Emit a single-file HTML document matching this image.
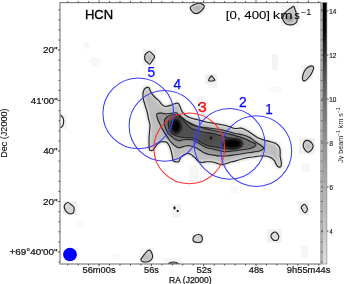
<!DOCTYPE html><html><head><meta charset="utf-8"><style>html,body{margin:0;padding:0;background:#fff;overflow:hidden}svg{display:block}text{opacity:0.999}text{font-family:"Liberation Sans",sans-serif}</style></head><body>
<svg width="344" height="284" viewBox="0 0 344 284">
<defs>
<filter id="bl" x="-20%" y="-20%" width="140%" height="140%"><feGaussianBlur stdDeviation="1.3"/></filter>
<filter id="bl2" x="-50%" y="-50%" width="200%" height="200%"><feGaussianBlur stdDeviation="1.0"/></filter><filter id="bl3" x="-50%" y="-50%" width="200%" height="200%"><feGaussianBlur stdDeviation="0.8"/></filter>
<linearGradient id="cb" gradientUnits="userSpaceOnUse" x1="0" y1="2.6" x2="0" y2="264">
<stop offset="0.0000" stop-color="rgb(0,0,0)"/>
<stop offset="0.1048" stop-color="rgb(6,6,6)"/>
<stop offset="0.1622" stop-color="rgb(30,30,30)"/>
<stop offset="0.2196" stop-color="rgb(58,58,58)"/>
<stop offset="0.2884" stop-color="rgb(86,86,86)"/>
<stop offset="0.3688" stop-color="rgb(110,110,110)"/>
<stop offset="0.5371" stop-color="rgb(146,146,146)"/>
<stop offset="0.7054" stop-color="rgb(174,174,174)"/>
<stop offset="0.8738" stop-color="rgb(199,199,199)"/>
<stop offset="1.0000" stop-color="rgb(224,224,224)"/>
</linearGradient>
<clipPath id="plot"><rect x="60" y="2.6" width="261" height="261.4"/></clipPath>
</defs>
<rect width="344" height="284" fill="#fff"/>
<g clip-path="url(#plot)">
<rect x="143" y="49" width="13" height="17" fill="rgb(242,242,242)"/>
<rect x="189" y="3" width="16" height="12" fill="rgb(245,245,245)"/>
<rect x="281" y="5" width="18" height="21" fill="rgb(245,245,245)"/>
<rect x="301" y="65" width="12" height="15" fill="rgb(247,247,247)"/>
<rect x="272" y="54" width="6" height="16" fill="rgb(245,245,245)"/>
<rect x="63" y="201" width="14" height="14" fill="rgb(240,240,240)"/>
<rect x="299" y="138" width="16" height="16" fill="rgb(240,240,240)"/>
<rect x="301" y="163" width="9" height="9" fill="rgb(247,247,247)"/>
<rect x="298" y="201" width="11" height="14" fill="rgb(242,242,242)"/>
<rect x="267" y="229" width="15" height="14" fill="rgb(242,242,242)"/>
<rect x="301" y="246" width="7" height="12" fill="rgb(246,246,246)"/>
<rect x="140" y="248" width="14" height="15" fill="rgb(245,245,245)"/>
<rect x="192" y="233" width="12" height="11" fill="rgb(245,245,245)"/>
<rect x="172" y="204" width="9" height="13" fill="rgb(243,243,243)"/>
<rect x="84" y="42" width="6" height="7" fill="rgb(248,248,248)"/>
<rect x="92" y="57" width="6" height="9" fill="rgb(246,246,246)"/>
<rect x="89" y="59" width="12" height="4" fill="rgb(247,247,247)"/>
<rect x="197" y="96" width="8" height="22" fill="rgb(245,245,245)"/>
<rect x="60" y="114" width="7" height="15" fill="rgb(244,244,244)"/>
<rect x="189" y="165" width="10" height="16" fill="rgb(246,246,246)"/>
<rect x="164" y="258" width="18" height="6" fill="rgb(246,246,246)"/>
<rect x="205" y="74" width="12" height="10" fill="rgb(240,240,240)"/>
<rect x="208" y="83" width="9" height="5" fill="rgb(244,244,244)"/>
<rect x="76" y="219" width="8" height="8" fill="rgb(249,249,249)"/>
<rect x="113" y="253" width="7" height="7" fill="rgb(249,249,249)"/>
<rect x="268" y="87" width="14" height="6" fill="rgb(249,249,249)"/>
<rect x="230" y="186" width="8" height="8" fill="rgb(249,249,249)"/>
<g filter="url(#bl)">
<path d="M145.0,88.5 C145.8,87.9 147.8,87.3 148.6,87.5 C149.4,87.7 149.2,88.4 149.7,89.4 C150.2,90.4 150.8,92.1 151.6,93.4 C152.4,94.7 153.4,95.8 154.6,97.0 C155.8,98.2 157.5,99.4 158.8,100.7 C160.1,102.0 161.4,104.1 162.6,105.1 C163.8,106.1 164.8,106.5 166.2,106.5 C167.6,106.5 169.7,105.6 171.1,105.1 C172.5,104.6 173.4,104.0 174.6,103.7 C175.8,103.4 177.1,102.8 178.0,103.2 C178.9,103.6 179.3,105.2 179.9,106.3 C180.5,107.4 180.7,108.7 181.3,109.9 C181.9,111.1 182.6,112.4 183.5,113.4 C184.4,114.5 185.6,115.4 187.0,116.2 C188.4,117.0 190.2,117.7 191.9,118.3 C193.7,118.9 195.6,119.2 197.5,119.7 C199.4,120.2 201.3,120.6 203.2,121.1 C205.1,121.6 206.8,122.1 208.8,122.5 C210.8,122.9 212.8,123.2 215.0,123.6 C217.2,124.0 219.7,124.3 222.0,124.8 C224.3,125.3 226.8,125.9 229.0,126.5 C231.2,127.1 232.9,128.2 235.0,128.5 C237.1,128.8 239.5,127.8 241.3,128.1 C243.1,128.3 244.4,129.5 245.6,130.0 C246.8,130.5 247.0,130.6 248.2,131.3 C249.4,132.1 251.3,133.4 252.9,134.5 C254.5,135.6 255.8,136.8 257.7,137.7 C259.6,138.6 261.9,139.4 264.0,140.1 C266.1,140.8 268.5,141.2 270.4,141.7 C272.3,142.2 273.9,142.7 275.2,143.3 C276.5,144.0 277.5,144.7 278.3,145.6 C279.1,146.5 279.6,147.6 279.9,148.8 C280.2,150.0 280.1,151.5 280.2,152.8 C280.2,154.1 280.0,155.2 280.2,156.7 C280.4,158.1 281.0,160.0 281.2,161.5 C281.4,163.0 281.4,164.6 281.2,165.5 C281.0,166.4 280.5,167.0 279.9,167.1 C279.3,167.2 278.1,166.8 277.5,166.3 C276.9,165.8 276.5,164.8 276.0,163.9 C275.5,163.0 275.1,161.6 274.4,160.7 C273.7,159.8 272.9,159.0 272.0,158.3 C271.1,157.6 270.0,157.1 268.8,156.7 C267.6,156.3 266.2,156.1 264.8,156.0 C263.4,155.9 261.8,155.9 260.1,156.0 C258.4,156.1 256.5,156.4 254.5,156.7 C252.5,156.9 249.8,157.2 248.0,157.5 C246.2,157.8 245.7,157.9 243.5,158.5 C241.3,159.1 237.0,160.5 235.0,161.1 C233.0,161.7 232.9,161.5 231.6,161.8 C230.3,162.2 228.9,162.7 227.4,163.2 C225.9,163.7 223.9,164.5 222.5,164.6 C221.1,164.7 220.3,164.3 219.0,164.0 C217.7,163.7 216.1,162.9 214.7,162.5 C213.3,162.1 211.9,161.9 210.5,161.8 C209.1,161.7 207.7,161.7 206.3,161.8 C204.9,161.9 203.3,162.6 202.0,162.5 C200.7,162.4 199.5,162.1 198.5,161.5 C197.5,160.9 196.9,159.7 196.0,158.8 C195.1,157.9 194.0,157.0 193.1,156.2 C192.2,155.4 191.2,154.6 190.3,154.1 C189.4,153.6 188.6,153.3 187.5,153.4 C186.4,153.5 185.1,154.2 184.0,154.8 C182.9,155.4 181.8,156.1 181.1,156.9 C180.4,157.7 180.2,158.9 179.7,159.7 C179.2,160.5 179.4,161.6 178.3,161.8 C177.2,162.0 174.3,161.7 173.4,161.1 C172.5,160.5 173.0,159.9 172.7,158.3 C172.3,156.7 171.9,153.4 171.3,151.3 C170.7,149.2 169.9,147.1 169.2,145.6 C168.5,144.1 167.7,143.1 167.0,142.5 C166.3,141.9 165.8,141.9 164.8,141.8 C163.8,141.7 162.4,141.5 161.2,141.8 C160.0,142.2 158.8,143.0 157.7,143.9 C156.6,144.8 155.7,146.4 154.9,147.5 C154.1,148.6 153.6,149.8 152.8,150.3 C152.0,150.8 150.6,150.5 150.0,150.3 C149.4,150.1 149.5,150.4 149.3,148.9 C149.1,147.4 149.0,143.6 149.0,141.1 C149.0,138.6 149.1,136.7 149.3,134.1 C149.5,131.5 150.0,127.6 150.0,125.6 C150.0,123.6 149.5,123.1 149.3,122.0 C149.1,120.9 148.9,120.8 148.6,119.2 C148.2,117.6 147.8,114.6 147.2,112.2 C146.6,109.8 145.6,107.2 145.0,105.1 C144.4,103.0 143.8,101.1 143.4,99.5 C143.1,97.9 142.9,96.7 142.9,95.3 C142.9,93.9 143.2,92.1 143.6,91.0 C143.9,89.9 144.2,89.1 145.0,88.5 Z" fill="rgb(190,190,190)" stroke="rgb(218,218,218)" stroke-width="3.5"/>
<path d="M157.0,113.6 C157.9,112.8 161.1,113.1 162.6,113.2 C164.1,113.3 164.7,114.0 166.2,114.0 C167.7,114.0 170.2,113.5 171.8,113.3 C173.4,113.1 174.9,112.6 176.0,112.8 C177.1,113.0 177.2,113.5 178.5,114.5 C179.8,115.5 182.0,117.5 183.8,119.0 C185.6,120.5 187.0,122.1 189.1,123.3 C191.2,124.5 193.8,125.7 196.5,126.4 C199.2,127.1 202.4,127.2 205.0,127.5 C207.6,127.8 209.5,128.2 212.0,128.5 C214.5,128.8 217.3,129.0 220.0,129.5 C222.7,130.0 225.5,130.8 228.0,131.5 C230.5,132.2 232.5,132.9 235.0,133.5 C237.5,134.1 240.5,134.3 243.0,135.0 C245.5,135.7 247.8,136.4 249.8,137.5 C251.8,138.6 253.4,140.3 255.0,141.5 C256.6,142.7 258.1,143.5 259.5,144.5 C260.9,145.5 263.1,146.6 263.5,147.5 C263.9,148.4 263.1,149.3 262.0,150.0 C260.9,150.7 259.0,151.1 257.0,151.5 C255.0,151.9 252.3,152.2 250.0,152.5 C247.7,152.8 245.5,153.1 243.0,153.5 C240.5,153.9 237.8,154.4 235.0,154.8 C232.2,155.2 228.5,155.8 226.0,156.0 C223.5,156.2 221.9,156.1 220.0,156.0 C218.1,155.9 216.5,155.6 214.7,155.3 C212.9,155.1 210.9,155.0 209.0,154.5 C207.1,154.0 205.2,153.3 203.5,152.5 C201.8,151.7 200.4,150.4 199.0,149.5 C197.6,148.6 196.3,147.8 195.0,147.2 C193.7,146.6 192.3,146.2 191.0,146.0 C189.7,145.8 188.3,145.6 187.0,145.7 C185.7,145.8 184.3,146.2 183.0,146.6 C181.7,146.9 180.3,147.9 179.0,147.8 C177.7,147.7 176.6,146.9 175.4,146.1 C174.2,145.3 173.1,144.3 172.0,143.2 C170.9,142.1 170.0,140.9 169.0,139.5 C168.0,138.1 167.0,136.6 165.9,134.9 C164.8,133.2 163.8,131.5 162.7,129.6 C161.6,127.7 160.4,125.2 159.5,123.3 C158.6,121.4 157.8,119.6 157.4,118.0 C157.0,116.4 156.1,114.4 157.0,113.6 Z" fill="rgb(150,150,150)"/>
<path d="M164.5,121.0 C164.8,119.2 165.8,118.0 167.0,117.0 C168.2,116.0 169.7,115.2 171.5,115.0 C173.3,114.8 176.1,114.8 178.0,115.5 C179.9,116.2 181.2,117.8 183.0,119.0 C184.8,120.2 186.7,121.3 189.0,122.5 C191.3,123.7 194.3,125.3 197.0,126.3 C199.7,127.3 202.5,127.9 205.0,128.6 C207.5,129.2 209.5,129.7 212.0,130.2 C214.5,130.7 217.3,131.2 220.0,131.8 C222.7,132.4 225.5,133.2 228.0,133.8 C230.5,134.4 232.4,134.8 235.0,135.6 C237.6,136.4 240.8,137.4 243.5,138.4 C246.2,139.4 248.9,140.8 251.0,141.8 C253.1,142.8 256.0,143.5 256.0,144.6 C256.0,145.7 253.1,147.5 251.0,148.3 C248.9,149.1 246.2,149.1 243.5,149.5 C240.8,149.9 237.4,150.5 235.0,150.8 C232.6,151.1 230.8,151.4 228.8,151.5 C226.8,151.6 224.6,151.7 223.0,151.5 C221.4,151.3 220.7,150.9 219.0,150.5 C217.3,150.1 214.8,149.5 212.7,149.0 C210.6,148.5 208.2,148.2 206.3,147.5 C204.4,146.8 202.7,145.5 201.0,144.5 C199.3,143.5 197.5,142.3 196.0,141.5 C194.5,140.7 193.5,140.2 192.0,139.8 C190.5,139.5 188.5,139.4 187.0,139.4 C185.5,139.4 184.3,139.6 183.0,139.8 C181.7,140.0 180.3,140.8 179.0,140.7 C177.7,140.6 176.6,140.0 175.4,139.4 C174.2,138.8 173.2,138.0 172.0,136.9 C170.8,135.8 169.1,134.5 168.0,133.0 C166.9,131.5 166.1,130.0 165.5,128.0 C164.9,126.0 164.2,122.8 164.5,121.0 Z" fill="rgb(110,110,110)"/>
<path d="M168.5,121.0 C169.0,119.6 170.2,118.3 171.5,117.6 C172.8,116.9 174.5,116.7 176.0,116.8 C177.5,116.9 179.1,117.3 180.5,118.2 C181.9,119.1 183.2,120.8 184.5,122.0 C185.8,123.2 186.8,124.4 188.0,125.5 C189.2,126.6 190.3,127.9 192.0,128.8 C193.7,129.7 195.8,130.4 198.0,131.0 C200.2,131.6 202.7,132.1 205.0,132.5 C207.3,132.9 209.5,133.0 212.0,133.5 C214.5,134.0 217.3,134.8 220.0,135.5 C222.7,136.2 225.7,137.3 228.0,137.8 C230.3,138.3 232.1,138.3 234.0,138.6 C235.9,138.9 238.2,139.1 239.5,139.6 C240.8,140.1 241.2,140.8 241.6,141.6 C242.0,142.4 242.1,143.3 242.0,144.2 C241.9,145.1 241.7,146.1 240.8,146.8 C239.9,147.5 238.0,148.1 236.5,148.5 C235.0,148.9 233.4,148.9 232.0,149.0 C230.6,149.1 229.8,149.2 228.0,149.0 C226.2,148.8 223.3,148.4 221.0,148.0 C218.7,147.6 216.3,147.2 214.0,146.8 C211.7,146.4 209.2,146.1 207.0,145.3 C204.8,144.6 202.8,143.4 201.0,142.3 C199.2,141.2 197.5,139.7 196.0,139.0 C194.5,138.3 193.5,138.2 192.0,138.0 C190.5,137.8 188.7,137.6 187.0,137.5 C185.3,137.4 183.7,137.6 182.0,137.3 C180.3,137.1 178.6,136.6 177.0,136.0 C175.4,135.4 173.7,134.9 172.5,134.0 C171.3,133.1 170.2,131.8 169.6,130.5 C168.9,129.2 168.8,127.6 168.6,126.0 C168.4,124.4 168.0,122.4 168.5,121.0 Z" fill="rgb(80,80,80)"/>
<ellipse cx="175.6" cy="126.2" rx="7.0" ry="9.0" fill="rgb(68,68,68)"/>
<ellipse cx="210.5" cy="138.0" rx="7.5" ry="5.0" fill="rgb(75,75,75)"/>
<ellipse cx="232.3" cy="143.9" rx="11.5" ry="6.2" fill="rgb(68,68,68)"/>
</g>
<g filter="url(#bl3)">
<ellipse cx="176.0" cy="126.2" rx="4.6000000000000005" ry="6.6000000000000005" fill="rgb(5,5,5)"/>
<ellipse cx="232.3" cy="143.8" rx="9.0" ry="4.6000000000000005" fill="rgb(5,5,5)"/>
</g>
<g filter="url(#bl2)">
<path d="M193.2,5.0 C194.6,4.3 197.2,3.3 198.8,3.2 C200.4,3.1 202.1,4.1 203.0,4.6 C203.9,5.1 204.5,5.4 204.3,6.3 C204.1,7.2 203.0,9.1 202.0,10.2 C201.0,11.3 199.6,12.6 198.3,13.1 C197.0,13.6 195.4,13.6 194.2,13.1 C193.0,12.6 191.8,11.1 191.2,10.2 C190.5,9.3 190.0,8.5 190.3,7.6 C190.6,6.7 191.8,5.7 193.2,5.0 Z" fill="rgb(195,195,195)"/>
<path d="M293.8,6.4 C294.4,6.8 294.7,8.5 295.2,9.9 C295.7,11.3 296.4,13.2 296.7,14.8 C297.0,16.4 297.3,18.5 297.2,19.8 C297.1,21.1 296.8,22.0 296.2,22.7 C295.6,23.4 294.7,23.8 293.8,24.2 C292.9,24.6 292.0,24.9 290.8,24.9 C289.6,24.9 287.9,24.6 286.8,24.2 C285.7,23.8 285.0,23.0 284.4,22.2 C283.8,21.4 283.1,20.4 282.9,19.3 C282.7,18.2 283.0,16.9 283.4,15.8 C283.8,14.7 284.5,13.5 285.4,12.4 C286.3,11.3 287.7,10.2 288.8,9.4 C289.9,8.6 291.0,7.9 291.8,7.4 C292.6,6.9 293.2,6.0 293.8,6.4 Z" fill="rgb(200,200,200)"/>
<path d="M211.5,75.8 C212.2,75.8 212.9,77.5 213.5,78.2 C214.1,79.0 215.2,79.8 214.9,80.3 C214.6,80.8 212.9,81.0 211.8,81.0 C210.8,81.0 209.0,81.1 208.6,80.6 C208.2,80.1 209.1,78.8 209.6,78.0 C210.1,77.2 210.8,75.8 211.5,75.8 Z" fill="rgb(200,200,200)"/>
<path d="M149.5,51.5 C150.5,51.5 151.4,52.9 152.2,53.6 C153.0,54.3 153.8,55.1 154.2,55.8 C154.5,56.5 154.7,56.9 154.3,57.8 C153.9,58.7 152.8,60.1 152.0,61.2 C151.2,62.3 150.4,64.0 149.6,64.2 C148.8,64.4 148.0,62.8 147.3,62.2 C146.6,61.6 145.7,61.5 145.3,60.5 C144.9,59.5 144.6,57.4 144.7,56.2 C144.8,55.0 145.3,54.3 146.1,53.5 C146.9,52.7 148.5,51.5 149.5,51.5 Z" fill="rgb(205,205,205)"/>
<path d="M311.5,65.8 C312.5,65.8 313.4,66.5 313.6,67.5 C313.8,68.5 313.2,70.0 312.5,71.5 C311.8,73.0 310.7,75.0 309.5,76.5 C308.3,78.0 306.6,79.9 305.5,80.5 C304.4,81.1 303.5,81.0 303.0,80.3 C302.5,79.6 302.4,78.0 302.7,76.5 C302.9,75.0 303.7,72.5 304.5,71.0 C305.3,69.5 306.3,68.4 307.5,67.5 C308.7,66.6 310.5,65.8 311.5,65.8 Z" fill="rgb(200,200,200)"/>
<path d="M67.9,202.5 C69.1,202.7 71.3,204.7 72.3,205.6 C73.3,206.5 73.9,206.7 74.1,207.8 C74.3,208.9 73.9,211.2 73.6,212.2 C73.3,213.1 73.1,213.3 72.3,213.5 C71.5,213.7 69.9,213.9 68.8,213.5 C67.7,213.1 66.5,211.9 65.7,210.8 C64.9,209.7 64.3,208.0 64.2,206.9 C64.1,205.8 64.7,204.9 65.3,204.2 C65.9,203.5 66.7,202.3 67.9,202.5 Z" fill="rgb(215,215,215)"/>
<path d="M149.6,250.1 C150.4,250.3 151.0,251.4 151.5,252.4 C152.0,253.4 152.5,254.9 152.6,256.0 C152.7,257.1 152.4,258.0 151.9,258.8 C151.4,259.6 150.6,260.5 149.6,261.0 C148.6,261.5 147.2,261.9 146.0,262.0 C144.8,262.1 143.2,261.9 142.3,261.5 C141.5,261.1 140.9,260.4 140.9,259.7 C140.9,259.0 141.7,258.3 142.3,257.4 C142.9,256.5 143.8,255.2 144.6,254.2 C145.4,253.2 146.1,252.1 146.9,251.4 C147.7,250.7 148.8,249.9 149.6,250.1 Z" fill="rgb(200,200,200)"/>
<path d="M198.5,234.5 C199.7,234.5 200.8,235.2 201.5,236.0 C202.2,236.8 202.5,238.0 202.4,239.0 C202.3,240.0 201.8,241.4 201.0,242.0 C200.2,242.6 198.7,242.6 197.5,242.5 C196.3,242.4 194.8,242.1 194.0,241.5 C193.2,240.9 192.9,239.9 193.0,239.0 C193.1,238.1 193.6,236.8 194.5,236.0 C195.4,235.2 197.3,234.5 198.5,234.5 Z" fill="rgb(210,210,210)"/>
<path d="M304.7,141.3 C305.6,140.7 307.4,140.3 308.6,140.6 C309.8,140.9 310.9,142.1 311.7,143.0 C312.4,143.9 313.1,144.8 313.1,145.9 C313.1,147.0 312.4,148.6 311.7,149.7 C310.9,150.8 309.5,152.0 308.6,152.2 C307.7,152.4 306.9,151.9 306.1,151.1 C305.3,150.3 304.1,148.7 303.6,147.6 C303.1,146.5 303.1,145.6 303.3,144.5 C303.5,143.4 303.8,142.0 304.7,141.3 Z" fill="rgb(205,205,205)"/>
<path d="M304.5,204.3 C305.3,204.4 306.1,205.9 306.6,206.8 C307.1,207.7 307.5,208.6 307.3,209.6 C307.1,210.6 305.9,212.6 305.2,212.8 C304.5,213.0 303.6,211.8 303.0,211.0 C302.4,210.2 301.5,208.7 301.3,207.9 C301.1,207.1 301.5,206.7 302.0,206.1 C302.5,205.5 303.7,204.2 304.5,204.3 Z" fill="rgb(215,215,215)"/>
<path d="M275.9,232.2 C276.9,232.7 278.3,234.8 278.7,235.9 C279.1,237.0 278.6,237.9 278.3,238.7 C278.0,239.4 277.5,240.2 276.6,240.4 C275.7,240.6 273.9,240.4 273.0,239.7 C272.1,238.9 270.9,237.0 270.9,235.9 C270.8,234.8 271.9,233.6 272.7,233.0 C273.5,232.4 274.9,231.7 275.9,232.2 Z" fill="rgb(220,220,220)"/>
<ellipse cx="289.5" cy="18.0" rx="3.8" ry="3.6" fill="rgb(150,150,150)"/>
<ellipse cx="197.5" cy="8.5" rx="3.5" ry="2.5" fill="rgb(180,180,180)"/>
<ellipse cx="149.5" cy="58" rx="2.5" ry="3.5" fill="rgb(185,185,185)"/>
<ellipse cx="308.3" cy="146.5" rx="2.5" ry="3" fill="rgb(190,190,190)"/>
<ellipse cx="146.5" cy="257.5" rx="3" ry="2.5" fill="rgb(185,185,185)"/>
</g>
<path d="M145.0,88.5 C145.8,87.9 147.8,87.3 148.6,87.5 C149.4,87.7 149.2,88.4 149.7,89.4 C150.2,90.4 150.8,92.1 151.6,93.4 C152.4,94.7 153.4,95.8 154.6,97.0 C155.8,98.2 157.5,99.4 158.8,100.7 C160.1,102.0 161.4,104.1 162.6,105.1 C163.8,106.1 164.8,106.5 166.2,106.5 C167.6,106.5 169.7,105.6 171.1,105.1 C172.5,104.6 173.4,104.0 174.6,103.7 C175.8,103.4 177.1,102.8 178.0,103.2 C178.9,103.6 179.3,105.2 179.9,106.3 C180.5,107.4 180.7,108.7 181.3,109.9 C181.9,111.1 182.6,112.4 183.5,113.4 C184.4,114.5 185.6,115.4 187.0,116.2 C188.4,117.0 190.2,117.7 191.9,118.3 C193.7,118.9 195.6,119.2 197.5,119.7 C199.4,120.2 201.3,120.6 203.2,121.1 C205.1,121.6 206.8,122.1 208.8,122.5 C210.8,122.9 212.8,123.2 215.0,123.6 C217.2,124.0 219.7,124.3 222.0,124.8 C224.3,125.3 226.8,125.9 229.0,126.5 C231.2,127.1 232.9,128.2 235.0,128.5 C237.1,128.8 239.5,127.8 241.3,128.1 C243.1,128.3 244.4,129.5 245.6,130.0 C246.8,130.5 247.0,130.6 248.2,131.3 C249.4,132.1 251.3,133.4 252.9,134.5 C254.5,135.6 255.8,136.8 257.7,137.7 C259.6,138.6 261.9,139.4 264.0,140.1 C266.1,140.8 268.5,141.2 270.4,141.7 C272.3,142.2 273.9,142.7 275.2,143.3 C276.5,144.0 277.5,144.7 278.3,145.6 C279.1,146.5 279.6,147.6 279.9,148.8 C280.2,150.0 280.1,151.5 280.2,152.8 C280.2,154.1 280.0,155.2 280.2,156.7 C280.4,158.1 281.0,160.0 281.2,161.5 C281.4,163.0 281.4,164.6 281.2,165.5 C281.0,166.4 280.5,167.0 279.9,167.1 C279.3,167.2 278.1,166.8 277.5,166.3 C276.9,165.8 276.5,164.8 276.0,163.9 C275.5,163.0 275.1,161.6 274.4,160.7 C273.7,159.8 272.9,159.0 272.0,158.3 C271.1,157.6 270.0,157.1 268.8,156.7 C267.6,156.3 266.2,156.1 264.8,156.0 C263.4,155.9 261.8,155.9 260.1,156.0 C258.4,156.1 256.5,156.4 254.5,156.7 C252.5,156.9 249.8,157.2 248.0,157.5 C246.2,157.8 245.7,157.9 243.5,158.5 C241.3,159.1 237.0,160.5 235.0,161.1 C233.0,161.7 232.9,161.5 231.6,161.8 C230.3,162.2 228.9,162.7 227.4,163.2 C225.9,163.7 223.9,164.5 222.5,164.6 C221.1,164.7 220.3,164.3 219.0,164.0 C217.7,163.7 216.1,162.9 214.7,162.5 C213.3,162.1 211.9,161.9 210.5,161.8 C209.1,161.7 207.7,161.7 206.3,161.8 C204.9,161.9 203.3,162.6 202.0,162.5 C200.7,162.4 199.5,162.1 198.5,161.5 C197.5,160.9 196.9,159.7 196.0,158.8 C195.1,157.9 194.0,157.0 193.1,156.2 C192.2,155.4 191.2,154.6 190.3,154.1 C189.4,153.6 188.6,153.3 187.5,153.4 C186.4,153.5 185.1,154.2 184.0,154.8 C182.9,155.4 181.8,156.1 181.1,156.9 C180.4,157.7 180.2,158.9 179.7,159.7 C179.2,160.5 179.4,161.6 178.3,161.8 C177.2,162.0 174.3,161.7 173.4,161.1 C172.5,160.5 173.0,159.9 172.7,158.3 C172.3,156.7 171.9,153.4 171.3,151.3 C170.7,149.2 169.9,147.1 169.2,145.6 C168.5,144.1 167.7,143.1 167.0,142.5 C166.3,141.9 165.8,141.9 164.8,141.8 C163.8,141.7 162.4,141.5 161.2,141.8 C160.0,142.2 158.8,143.0 157.7,143.9 C156.6,144.8 155.7,146.4 154.9,147.5 C154.1,148.6 153.6,149.8 152.8,150.3 C152.0,150.8 150.6,150.5 150.0,150.3 C149.4,150.1 149.5,150.4 149.3,148.9 C149.1,147.4 149.0,143.6 149.0,141.1 C149.0,138.6 149.1,136.7 149.3,134.1 C149.5,131.5 150.0,127.6 150.0,125.6 C150.0,123.6 149.5,123.1 149.3,122.0 C149.1,120.9 148.9,120.8 148.6,119.2 C148.2,117.6 147.8,114.6 147.2,112.2 C146.6,109.8 145.6,107.2 145.0,105.1 C144.4,103.0 143.8,101.1 143.4,99.5 C143.1,97.9 142.9,96.7 142.9,95.3 C142.9,93.9 143.2,92.1 143.6,91.0 C143.9,89.9 144.2,89.1 145.0,88.5 Z" fill="none" stroke="rgb(35,35,35)" stroke-width="1.15" stroke-linejoin="round"/>
<path d="M157.0,113.6 C157.9,112.8 161.1,113.1 162.6,113.2 C164.1,113.3 164.7,114.0 166.2,114.0 C167.7,114.0 170.2,113.5 171.8,113.3 C173.4,113.1 174.9,112.6 176.0,112.8 C177.1,113.0 177.2,113.5 178.5,114.5 C179.8,115.5 182.0,117.5 183.8,119.0 C185.6,120.5 187.0,122.1 189.1,123.3 C191.2,124.5 193.8,125.7 196.5,126.4 C199.2,127.1 202.4,127.2 205.0,127.5 C207.6,127.8 209.5,128.2 212.0,128.5 C214.5,128.8 217.3,129.0 220.0,129.5 C222.7,130.0 225.5,130.8 228.0,131.5 C230.5,132.2 232.5,132.9 235.0,133.5 C237.5,134.1 240.5,134.3 243.0,135.0 C245.5,135.7 247.8,136.4 249.8,137.5 C251.8,138.6 253.4,140.3 255.0,141.5 C256.6,142.7 258.1,143.5 259.5,144.5 C260.9,145.5 263.1,146.6 263.5,147.5 C263.9,148.4 263.1,149.3 262.0,150.0 C260.9,150.7 259.0,151.1 257.0,151.5 C255.0,151.9 252.3,152.2 250.0,152.5 C247.7,152.8 245.5,153.1 243.0,153.5 C240.5,153.9 237.8,154.4 235.0,154.8 C232.2,155.2 228.5,155.8 226.0,156.0 C223.5,156.2 221.9,156.1 220.0,156.0 C218.1,155.9 216.5,155.6 214.7,155.3 C212.9,155.1 210.9,155.0 209.0,154.5 C207.1,154.0 205.2,153.3 203.5,152.5 C201.8,151.7 200.4,150.4 199.0,149.5 C197.6,148.6 196.3,147.8 195.0,147.2 C193.7,146.6 192.3,146.2 191.0,146.0 C189.7,145.8 188.3,145.6 187.0,145.7 C185.7,145.8 184.3,146.2 183.0,146.6 C181.7,146.9 180.3,147.9 179.0,147.8 C177.7,147.7 176.6,146.9 175.4,146.1 C174.2,145.3 173.1,144.3 172.0,143.2 C170.9,142.1 170.0,140.9 169.0,139.5 C168.0,138.1 167.0,136.6 165.9,134.9 C164.8,133.2 163.8,131.5 162.7,129.6 C161.6,127.7 160.4,125.2 159.5,123.3 C158.6,121.4 157.8,119.6 157.4,118.0 C157.0,116.4 156.1,114.4 157.0,113.6 Z" fill="none" stroke="rgb(35,35,35)" stroke-width="1.15" stroke-linejoin="round"/>
<path d="M164.5,121.0 C164.8,119.2 165.8,118.0 167.0,117.0 C168.2,116.0 169.7,115.2 171.5,115.0 C173.3,114.8 176.1,114.8 178.0,115.5 C179.9,116.2 181.2,117.8 183.0,119.0 C184.8,120.2 186.7,121.3 189.0,122.5 C191.3,123.7 194.3,125.3 197.0,126.3 C199.7,127.3 202.5,127.9 205.0,128.6 C207.5,129.2 209.5,129.7 212.0,130.2 C214.5,130.7 217.3,131.2 220.0,131.8 C222.7,132.4 225.5,133.2 228.0,133.8 C230.5,134.4 232.4,134.8 235.0,135.6 C237.6,136.4 240.8,137.4 243.5,138.4 C246.2,139.4 248.9,140.8 251.0,141.8 C253.1,142.8 256.0,143.5 256.0,144.6 C256.0,145.7 253.1,147.5 251.0,148.3 C248.9,149.1 246.2,149.1 243.5,149.5 C240.8,149.9 237.4,150.5 235.0,150.8 C232.6,151.1 230.8,151.4 228.8,151.5 C226.8,151.6 224.6,151.7 223.0,151.5 C221.4,151.3 220.7,150.9 219.0,150.5 C217.3,150.1 214.8,149.5 212.7,149.0 C210.6,148.5 208.2,148.2 206.3,147.5 C204.4,146.8 202.7,145.5 201.0,144.5 C199.3,143.5 197.5,142.3 196.0,141.5 C194.5,140.7 193.5,140.2 192.0,139.8 C190.5,139.5 188.5,139.4 187.0,139.4 C185.5,139.4 184.3,139.6 183.0,139.8 C181.7,140.0 180.3,140.8 179.0,140.7 C177.7,140.6 176.6,140.0 175.4,139.4 C174.2,138.8 173.2,138.0 172.0,136.9 C170.8,135.8 169.1,134.5 168.0,133.0 C166.9,131.5 166.1,130.0 165.5,128.0 C164.9,126.0 164.2,122.8 164.5,121.0 Z" fill="none" stroke="rgb(35,35,35)" stroke-width="1.15" stroke-linejoin="round"/>
<path d="M168.5,121.0 C169.0,119.6 170.2,118.3 171.5,117.6 C172.8,116.9 174.5,116.7 176.0,116.8 C177.5,116.9 179.1,117.3 180.5,118.2 C181.9,119.1 183.2,120.8 184.5,122.0 C185.8,123.2 186.8,124.4 188.0,125.5 C189.2,126.6 190.3,127.9 192.0,128.8 C193.7,129.7 195.8,130.4 198.0,131.0 C200.2,131.6 202.7,132.1 205.0,132.5 C207.3,132.9 209.5,133.0 212.0,133.5 C214.5,134.0 217.3,134.8 220.0,135.5 C222.7,136.2 225.7,137.3 228.0,137.8 C230.3,138.3 232.1,138.3 234.0,138.6 C235.9,138.9 238.2,139.1 239.5,139.6 C240.8,140.1 241.2,140.8 241.6,141.6 C242.0,142.4 242.1,143.3 242.0,144.2 C241.9,145.1 241.7,146.1 240.8,146.8 C239.9,147.5 238.0,148.1 236.5,148.5 C235.0,148.9 233.4,148.9 232.0,149.0 C230.6,149.1 229.8,149.2 228.0,149.0 C226.2,148.8 223.3,148.4 221.0,148.0 C218.7,147.6 216.3,147.2 214.0,146.8 C211.7,146.4 209.2,146.1 207.0,145.3 C204.8,144.6 202.8,143.4 201.0,142.3 C199.2,141.2 197.5,139.7 196.0,139.0 C194.5,138.3 193.5,138.2 192.0,138.0 C190.5,137.8 188.7,137.6 187.0,137.5 C185.3,137.4 183.7,137.6 182.0,137.3 C180.3,137.1 178.6,136.6 177.0,136.0 C175.4,135.4 173.7,134.9 172.5,134.0 C171.3,133.1 170.2,131.8 169.6,130.5 C168.9,129.2 168.8,127.6 168.6,126.0 C168.4,124.4 168.0,122.4 168.5,121.0 Z" fill="none" stroke="rgb(35,35,35)" stroke-width="1.15" stroke-linejoin="round"/>
<ellipse cx="176.0" cy="126.2" rx="5.2" ry="7.2" fill="none" stroke="rgb(35,35,35)" stroke-width="1.15" stroke-linejoin="round"/>
<ellipse cx="232.3" cy="143.8" rx="9.6" ry="5.2" fill="none" stroke="rgb(35,35,35)" stroke-width="1.15" stroke-linejoin="round"/>
<path d="M193.2,5.0 C194.6,4.3 197.2,3.3 198.8,3.2 C200.4,3.1 202.1,4.1 203.0,4.6 C203.9,5.1 204.5,5.4 204.3,6.3 C204.1,7.2 203.0,9.1 202.0,10.2 C201.0,11.3 199.6,12.6 198.3,13.1 C197.0,13.6 195.4,13.6 194.2,13.1 C193.0,12.6 191.8,11.1 191.2,10.2 C190.5,9.3 190.0,8.5 190.3,7.6 C190.6,6.7 191.8,5.7 193.2,5.0 Z" fill="none" stroke="rgb(35,35,35)" stroke-width="1.15" stroke-linejoin="round"/>
<path d="M293.8,6.4 C294.4,6.8 294.7,8.5 295.2,9.9 C295.7,11.3 296.4,13.2 296.7,14.8 C297.0,16.4 297.3,18.5 297.2,19.8 C297.1,21.1 296.8,22.0 296.2,22.7 C295.6,23.4 294.7,23.8 293.8,24.2 C292.9,24.6 292.0,24.9 290.8,24.9 C289.6,24.9 287.9,24.6 286.8,24.2 C285.7,23.8 285.0,23.0 284.4,22.2 C283.8,21.4 283.1,20.4 282.9,19.3 C282.7,18.2 283.0,16.9 283.4,15.8 C283.8,14.7 284.5,13.5 285.4,12.4 C286.3,11.3 287.7,10.2 288.8,9.4 C289.9,8.6 291.0,7.9 291.8,7.4 C292.6,6.9 293.2,6.0 293.8,6.4 Z" fill="none" stroke="rgb(35,35,35)" stroke-width="1.15" stroke-linejoin="round"/>
<path d="M211.5,75.8 C212.2,75.8 212.9,77.5 213.5,78.2 C214.1,79.0 215.2,79.8 214.9,80.3 C214.6,80.8 212.9,81.0 211.8,81.0 C210.8,81.0 209.0,81.1 208.6,80.6 C208.2,80.1 209.1,78.8 209.6,78.0 C210.1,77.2 210.8,75.8 211.5,75.8 Z" fill="none" stroke="rgb(35,35,35)" stroke-width="1.15" stroke-linejoin="round"/>
<path d="M149.5,51.5 C150.5,51.5 151.4,52.9 152.2,53.6 C153.0,54.3 153.8,55.1 154.2,55.8 C154.5,56.5 154.7,56.9 154.3,57.8 C153.9,58.7 152.8,60.1 152.0,61.2 C151.2,62.3 150.4,64.0 149.6,64.2 C148.8,64.4 148.0,62.8 147.3,62.2 C146.6,61.6 145.7,61.5 145.3,60.5 C144.9,59.5 144.6,57.4 144.7,56.2 C144.8,55.0 145.3,54.3 146.1,53.5 C146.9,52.7 148.5,51.5 149.5,51.5 Z" fill="none" stroke="rgb(35,35,35)" stroke-width="1.15" stroke-linejoin="round"/>
<path d="M311.5,65.8 C312.5,65.8 313.4,66.5 313.6,67.5 C313.8,68.5 313.2,70.0 312.5,71.5 C311.8,73.0 310.7,75.0 309.5,76.5 C308.3,78.0 306.6,79.9 305.5,80.5 C304.4,81.1 303.5,81.0 303.0,80.3 C302.5,79.6 302.4,78.0 302.7,76.5 C302.9,75.0 303.7,72.5 304.5,71.0 C305.3,69.5 306.3,68.4 307.5,67.5 C308.7,66.6 310.5,65.8 311.5,65.8 Z" fill="none" stroke="rgb(35,35,35)" stroke-width="1.15" stroke-linejoin="round"/>
<path d="M67.9,202.5 C69.1,202.7 71.3,204.7 72.3,205.6 C73.3,206.5 73.9,206.7 74.1,207.8 C74.3,208.9 73.9,211.2 73.6,212.2 C73.3,213.1 73.1,213.3 72.3,213.5 C71.5,213.7 69.9,213.9 68.8,213.5 C67.7,213.1 66.5,211.9 65.7,210.8 C64.9,209.7 64.3,208.0 64.2,206.9 C64.1,205.8 64.7,204.9 65.3,204.2 C65.9,203.5 66.7,202.3 67.9,202.5 Z" fill="none" stroke="rgb(35,35,35)" stroke-width="1.15" stroke-linejoin="round"/>
<path d="M149.6,250.1 C150.4,250.3 151.0,251.4 151.5,252.4 C152.0,253.4 152.5,254.9 152.6,256.0 C152.7,257.1 152.4,258.0 151.9,258.8 C151.4,259.6 150.6,260.5 149.6,261.0 C148.6,261.5 147.2,261.9 146.0,262.0 C144.8,262.1 143.2,261.9 142.3,261.5 C141.5,261.1 140.9,260.4 140.9,259.7 C140.9,259.0 141.7,258.3 142.3,257.4 C142.9,256.5 143.8,255.2 144.6,254.2 C145.4,253.2 146.1,252.1 146.9,251.4 C147.7,250.7 148.8,249.9 149.6,250.1 Z" fill="none" stroke="rgb(35,35,35)" stroke-width="1.15" stroke-linejoin="round"/>
<path d="M198.5,234.5 C199.7,234.5 200.8,235.2 201.5,236.0 C202.2,236.8 202.5,238.0 202.4,239.0 C202.3,240.0 201.8,241.4 201.0,242.0 C200.2,242.6 198.7,242.6 197.5,242.5 C196.3,242.4 194.8,242.1 194.0,241.5 C193.2,240.9 192.9,239.9 193.0,239.0 C193.1,238.1 193.6,236.8 194.5,236.0 C195.4,235.2 197.3,234.5 198.5,234.5 Z" fill="none" stroke="rgb(35,35,35)" stroke-width="1.15" stroke-linejoin="round"/>
<path d="M304.7,141.3 C305.6,140.7 307.4,140.3 308.6,140.6 C309.8,140.9 310.9,142.1 311.7,143.0 C312.4,143.9 313.1,144.8 313.1,145.9 C313.1,147.0 312.4,148.6 311.7,149.7 C310.9,150.8 309.5,152.0 308.6,152.2 C307.7,152.4 306.9,151.9 306.1,151.1 C305.3,150.3 304.1,148.7 303.6,147.6 C303.1,146.5 303.1,145.6 303.3,144.5 C303.5,143.4 303.8,142.0 304.7,141.3 Z" fill="none" stroke="rgb(35,35,35)" stroke-width="1.15" stroke-linejoin="round"/>
<path d="M304.5,204.3 C305.3,204.4 306.1,205.9 306.6,206.8 C307.1,207.7 307.5,208.6 307.3,209.6 C307.1,210.6 305.9,212.6 305.2,212.8 C304.5,213.0 303.6,211.8 303.0,211.0 C302.4,210.2 301.5,208.7 301.3,207.9 C301.1,207.1 301.5,206.7 302.0,206.1 C302.5,205.5 303.7,204.2 304.5,204.3 Z" fill="none" stroke="rgb(35,35,35)" stroke-width="1.15" stroke-linejoin="round"/>
<path d="M275.9,232.2 C276.9,232.7 278.3,234.8 278.7,235.9 C279.1,237.0 278.6,237.9 278.3,238.7 C278.0,239.4 277.5,240.2 276.6,240.4 C275.7,240.6 273.9,240.4 273.0,239.7 C272.1,238.9 270.9,237.0 270.9,235.9 C270.8,234.8 271.9,233.6 272.7,233.0 C273.5,232.4 274.9,231.7 275.9,232.2 Z" fill="none" stroke="rgb(35,35,35)" stroke-width="1.15" stroke-linejoin="round"/>
<ellipse cx="60" cy="121.5" rx="3.7" ry="6.2" fill="none" stroke="rgb(35,35,35)" stroke-width="1.15" stroke-linejoin="round"/>
<path d="M168.3,264 C170,261.5 176,261.3 178.7,264 Z" fill="rgb(185,185,185)" stroke="rgb(35,35,35)" stroke-width="1.15"/>
<ellipse cx="174.5" cy="207.9" rx="1.1" ry="1.6" fill="#111"/>
<ellipse cx="177.7" cy="211" rx="1.2" ry="1.0" fill="#111"/>
<circle cx="199" cy="105" r="1.1" fill="#222"/>
<ellipse cx="211" cy="137.9" rx="1.3" ry="1.6" fill="#111"/>
<circle cx="138.3" cy="113.4" r="35.4" fill="none" stroke="rgb(60,60,255)" stroke-width="1.05"/>
<circle cx="164.5" cy="125.8" r="35.4" fill="none" stroke="rgb(60,60,255)" stroke-width="1.05"/>
<circle cx="189.3" cy="148.4" r="35.4" fill="none" stroke="rgb(255,50,50)" stroke-width="1.05"/>
<circle cx="229.5" cy="143.9" r="35.4" fill="none" stroke="rgb(60,60,255)" stroke-width="1.05"/>
<circle cx="256.3" cy="151.1" r="35.4" fill="none" stroke="rgb(60,60,255)" stroke-width="1.05"/>
<ellipse cx="70" cy="254.5" rx="6.9" ry="6.7" fill="#00f"/>
</g>
<text x="147.45" y="76.90" font-size="14.0" textLength="7.62" lengthAdjust="spacingAndGlyphs" fill="#00f" stroke="#00f" stroke-width="0.25">5</text>
<text x="173.59" y="89.40" font-size="14.0" textLength="7.62" lengthAdjust="spacingAndGlyphs" fill="#00f" stroke="#00f" stroke-width="0.25">4</text>
<text x="198.00" y="111.70" font-size="14.0" textLength="8.80" lengthAdjust="spacingAndGlyphs" fill="#f00" stroke="#f00" stroke-width="0.25">3</text>
<text x="238.90" y="106.80" font-size="14.0" textLength="7.69" lengthAdjust="spacingAndGlyphs" fill="#00f" stroke="#00f" stroke-width="0.25">2</text>
<text x="265.28" y="114.10" font-size="14.0" textLength="7.48" lengthAdjust="spacingAndGlyphs" fill="#00f" stroke="#00f" stroke-width="0.25">1</text>
<rect x="60" y="2.6" width="261" height="261.4" fill="none" stroke="rgb(125,125,125)" stroke-width="1.15"/>
<path d="M60,9.72 h-1.5 M321,9.72 h1.5 M60,19.82 h-1.5 M321,19.82 h1.5 M60,29.91 h-1.5 M321,29.91 h1.5 M60,40.01 h-1.5 M321,40.01 h1.5 M60,50.10 h-2.2 M321,50.10 h2.2 M60,60.19 h-1.5 M321,60.19 h1.5 M60,70.29 h-1.5 M321,70.29 h1.5 M60,80.38 h-1.5 M321,80.38 h1.5 M60,90.48 h-1.5 M321,90.48 h1.5 M60,100.57 h-2.2 M321,100.57 h2.2 M60,110.66 h-1.5 M321,110.66 h1.5 M60,120.76 h-1.5 M321,120.76 h1.5 M60,130.85 h-1.5 M321,130.85 h1.5 M60,140.95 h-1.5 M321,140.95 h1.5 M60,151.04 h-2.2 M321,151.04 h2.2 M60,161.13 h-1.5 M321,161.13 h1.5 M60,171.23 h-1.5 M321,171.23 h1.5 M60,181.32 h-1.5 M321,181.32 h1.5 M60,191.42 h-1.5 M321,191.42 h1.5 M60,201.51 h-2.2 M321,201.51 h2.2 M60,211.60 h-1.5 M321,211.60 h1.5 M60,221.70 h-1.5 M321,221.70 h1.5 M60,231.79 h-1.5 M321,231.79 h1.5 M60,241.89 h-1.5 M321,241.89 h1.5 M60,251.98 h-2.2 M321,251.98 h2.2 M60,262.07 h-1.5 M321,262.07 h1.5 M67.72,264 v1.5 M67.72,2.6 v-1.5 M78.18,264 v1.5 M78.18,2.6 v-1.5 M88.64,264 v1.5 M88.64,2.6 v-1.5 M99.10,264 v2.2 M99.10,2.6 v-2.2 M109.56,264 v1.5 M109.56,2.6 v-1.5 M120.02,264 v1.5 M120.02,2.6 v-1.5 M130.48,264 v1.5 M130.48,2.6 v-1.5 M140.94,264 v1.5 M140.94,2.6 v-1.5 M151.40,264 v2.2 M151.40,2.6 v-2.2 M161.86,264 v1.5 M161.86,2.6 v-1.5 M172.32,264 v1.5 M172.32,2.6 v-1.5 M182.78,264 v1.5 M182.78,2.6 v-1.5 M193.24,264 v1.5 M193.24,2.6 v-1.5 M203.70,264 v2.2 M203.70,2.6 v-2.2 M214.16,264 v1.5 M214.16,2.6 v-1.5 M224.62,264 v1.5 M224.62,2.6 v-1.5 M235.08,264 v1.5 M235.08,2.6 v-1.5 M245.54,264 v1.5 M245.54,2.6 v-1.5 M256.00,264 v2.2 M256.00,2.6 v-2.2 M266.46,264 v1.5 M266.46,2.6 v-1.5 M276.92,264 v1.5 M276.92,2.6 v-1.5 M287.38,264 v1.5 M287.38,2.6 v-1.5 M297.84,264 v1.5 M297.84,2.6 v-1.5 M308.30,264 v2.2 M308.30,2.6 v-2.2 M318.76,264 v1.5 M318.76,2.6 v-1.5" stroke="rgb(60,60,60)" stroke-width="0.9" fill="none"/>
<rect x="322.6" y="2.6" width="4.3" height="261.4" fill="url(#cb)" stroke="rgb(130,130,130)" stroke-width="0.6"/>
<path d="M326.9,231.00 h1.6 M321.4,231.00 h1.6 M326.9,187.00 h1.6 M321.4,187.00 h1.6 M326.9,143.00 h1.6 M321.4,143.00 h1.6 M326.9,99.00 h1.6 M321.4,99.00 h1.6 M326.9,55.00 h1.6 M321.4,55.00 h1.6 M326.9,11.00 h1.6 M321.4,11.00 h1.6" stroke="rgb(60,60,60)" stroke-width="0.9" fill="none"/>
<text x="329.22" y="13.70" font-size="6.7" textLength="7.07" lengthAdjust="spacingAndGlyphs" fill="#222" stroke="#222" stroke-width="0.2">14</text>
<text x="329.21" y="57.70" font-size="6.7" textLength="7.22" lengthAdjust="spacingAndGlyphs" fill="#222" stroke="#222" stroke-width="0.2">12</text>
<text x="329.21" y="101.70" font-size="6.7" textLength="7.14" lengthAdjust="spacingAndGlyphs" fill="#222" stroke="#222" stroke-width="0.2">10</text>
<text x="329.43" y="145.70" font-size="6.7" textLength="3.44" lengthAdjust="spacingAndGlyphs" fill="#222" stroke="#222" stroke-width="0.2">8</text>
<text x="329.38" y="189.70" font-size="6.7" textLength="3.50" lengthAdjust="spacingAndGlyphs" fill="#222" stroke="#222" stroke-width="0.2">6</text>
<text x="329.57" y="233.70" font-size="6.7" textLength="3.20" lengthAdjust="spacingAndGlyphs" fill="#222" stroke="#222" stroke-width="0.2">4</text>
<text x="84.93" y="19.00" font-size="13.4" textLength="28.23" lengthAdjust="spacingAndGlyphs" fill="#000" stroke="#000" stroke-width="0.35">HCN</text>
<text x="225.86" y="19.00" font-size="10.6" textLength="44.19" lengthAdjust="spacingAndGlyphs" fill="#000" stroke="#000" stroke-width="0.08">[0, 400]</text>
<text x="272.80" y="19.00" font-size="10.6" textLength="19.78" lengthAdjust="spacingAndGlyphs" fill="#000" stroke="#000" stroke-width="0.05">km</text>
<text x="294.38" y="19.00" font-size="10.6" textLength="5.73" lengthAdjust="spacingAndGlyphs" fill="#000" stroke="#000" stroke-width="0.05">s</text>
<text x="301.05" y="15.20" font-size="8.4" textLength="10.39" lengthAdjust="spacingAndGlyphs" fill="#000">−1</text>
<text x="43.10" y="53.40" font-size="8.9" textLength="14.52" lengthAdjust="spacingAndGlyphs" fill="#111" stroke="#111" stroke-width="0.22">20&quot;</text>
<text x="30.78" y="103.95" font-size="8.9" textLength="26.83" lengthAdjust="spacingAndGlyphs" fill="#111" stroke="#111" stroke-width="0.22">41'00&quot;</text>
<text x="43.17" y="154.40" font-size="8.9" textLength="14.44" lengthAdjust="spacingAndGlyphs" fill="#111" stroke="#111" stroke-width="0.22">40&quot;</text>
<text x="43.10" y="204.65" font-size="8.9" textLength="14.52" lengthAdjust="spacingAndGlyphs" fill="#111" stroke="#111" stroke-width="0.22">20&quot;</text>
<text x="9.42" y="254.90" font-size="8.9" textLength="48.20" lengthAdjust="spacingAndGlyphs" fill="#111" stroke="#111" stroke-width="0.22">+69°40'00&quot;</text>
<text x="82.53" y="273.40" font-size="8.9" textLength="33.11" lengthAdjust="spacingAndGlyphs" fill="#111" stroke="#111" stroke-width="0.22">56m00s</text>
<text x="144.03" y="273.40" font-size="8.9" textLength="14.90" lengthAdjust="spacingAndGlyphs" fill="#111" stroke="#111" stroke-width="0.22">56s</text>
<text x="196.52" y="273.40" font-size="8.9" textLength="15.22" lengthAdjust="spacingAndGlyphs" fill="#111" stroke="#111" stroke-width="0.22">52s</text>
<text x="248.89" y="273.40" font-size="8.9" textLength="14.84" lengthAdjust="spacingAndGlyphs" fill="#111" stroke="#111" stroke-width="0.22">48s</text>
<text x="286.86" y="273.40" font-size="8.9" textLength="43.57" lengthAdjust="spacingAndGlyphs" fill="#111" stroke="#111" stroke-width="0.22">9h55m44s</text>
<text x="169.11" y="282.60" font-size="8.9" textLength="42.51" lengthAdjust="spacingAndGlyphs" fill="#111" stroke="#111" stroke-width="0.25">RA (J2000)</text>
<text transform="rotate(-90)" x="-157.74" y="7.10" font-size="8.9" textLength="49.20" lengthAdjust="spacingAndGlyphs" fill="#111" stroke="#111" stroke-width="0.12">Dec (J2000)</text>
<g transform="translate(342.6,162.8) rotate(-90)"><text x="0" y="0" font-size="6.6" fill="#222" textLength="55.4" lengthAdjust="spacingAndGlyphs">Jy beam<tspan font-size="4.6" dy="-2.6">−1</tspan><tspan dy="2.6"> km s</tspan><tspan font-size="4.6" dy="-2.6">−1</tspan></text></g>
</svg></body></html>
